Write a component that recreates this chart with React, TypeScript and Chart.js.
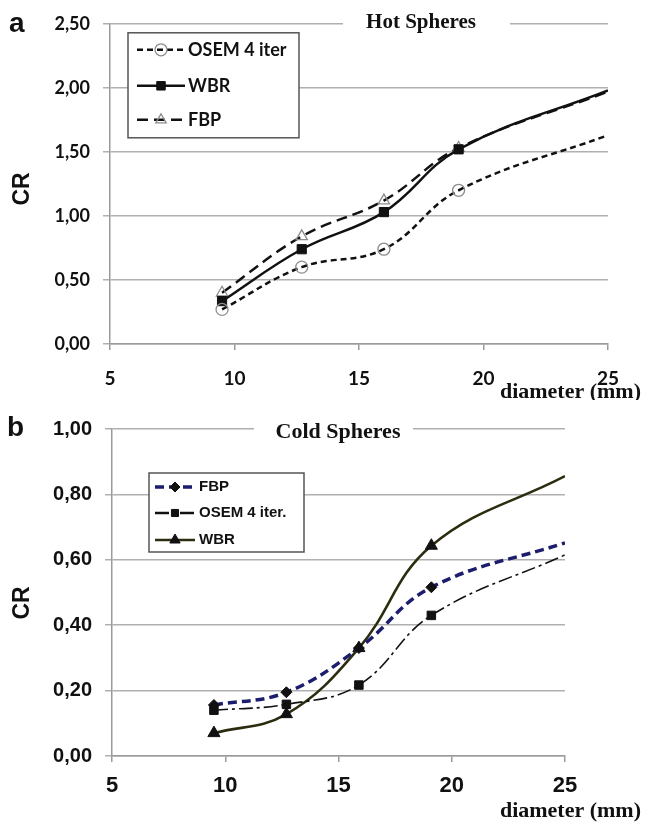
import React, { useEffect, useRef } from 'react';
import { Chart, registerables } from 'chart.js';
import { drawPoint } from 'chart.js/helpers';

Chart.register(...registerables);

// ---- Panel a: Hot Spheres ----
const hotDiameters = [9.5, 12.7, 16, 19, 25];
const hotOsem = [0.27, 0.6, 0.74, 1.2, 1.63];
const hotWbr = [0.335, 0.74, 1.03, 1.52, 1.98];
const hotFbp = [0.4, 0.84, 1.12, 1.53, 1.97];
const hotLabels = ['OSEM 4 iter', 'WBR', 'FBP'];

// ---- Panel b: Cold Spheres ----
const coldDiameters = [9.5, 12.7, 15.9, 19.1, 25];
const coldFbp = [0.156, 0.195, 0.33, 0.516, 0.652];
const coldOsem = [0.14, 0.158, 0.217, 0.43, 0.615];
const coldWbr = [0.07, 0.128, 0.33, 0.643, 0.856];
const coldLabels = ['FBP', 'OSEM 4 iter.', 'WBR'];

const xTicks = [5, 10, 15, 20, 25];

const toPts = (xs: number[], ys: number[]) => xs.map((x, i) => ({ x, y: ys[i] }));
const comma = (v: number) => Number(v).toFixed(2).replace('.', ',');

const annotPlugin = {
  id: 'annot',
  afterDraw(chart: any, _args: any, o: any) {
    const { ctx, chartArea } = chart;
    ctx.save();
    ctx.fillStyle = '#111';
    ctx.font = o.letterFont;
    ctx.textAlign = 'left';
    ctx.textBaseline = 'middle';
    ctx.fillText(o.letter, o.letterX, o.letterY);
    // y-axis title
    ctx.save();
    ctx.translate(o.yTitleX, o.yTitleY);
    ctx.rotate(-Math.PI / 2);
    ctx.font = o.yTitleFont;
    ctx.textAlign = 'center';
    ctx.textBaseline = 'middle';
    ctx.fillText(o.yTitle, 0, 0);
    ctx.restore();
    // chart title sitting on the top grid line
    ctx.fillStyle = '#fff';
    ctx.fillRect(o.gapX1, chartArea.top - 3, o.gapX2 - o.gapX1, 6);
    ctx.fillStyle = '#111';
    ctx.font = o.titleFont;
    ctx.textAlign = 'center';
    ctx.textBaseline = 'middle';
    ctx.fillText(o.title, o.titleX, o.titleY);
    // x-axis label
    ctx.textAlign = 'right';
    ctx.textBaseline = 'alphabetic';
    ctx.font = o.xLabelFont;
    ctx.fillText(o.xLabel, o.xLabelX, o.xLabelY);
    ctx.restore();
  },
};

const boxLegendPlugin = {
  id: 'boxLegend',
  afterDatasetsDraw(chart: any, _args: any, o: any) {
    const { ctx, chartArea } = chart;
    const x = chartArea.left + o.dx;
    const y = chartArea.top + o.dy;
    ctx.save();
    ctx.fillStyle = '#fff';
    ctx.fillRect(x, y, o.w, o.h);
    ctx.strokeStyle = '#555';
    ctx.lineWidth = 1.5;
    ctx.strokeRect(x, y, o.w, o.h);
    o.rows.forEach((row: any) => {
      const ds = chart.data.datasets[row.index];
      const ry = y + row.y;
      ctx.save();
      ctx.strokeStyle = ds.borderColor;
      ctx.lineWidth = row.lw || ds.borderWidth;
      ctx.setLineDash(ds.borderDash || []);
      ctx.beginPath();
      ctx.moveTo(x + o.s1, ry);
      ctx.lineTo(x + o.s2, ry);
      ctx.stroke();
      ctx.setLineDash([]);
      ctx.fillStyle = ds.pointBackgroundColor;
      ctx.strokeStyle = ds.pointBorderColor;
      ctx.lineWidth = ds.pointBorderWidth;
      drawPoint(
        ctx,
        { pointStyle: ds.pointStyle, radius: row.r, rotation: 0, borderWidth: ds.pointBorderWidth },
        x + (o.s1 + o.s2) / 2,
        ry
      );
      ctx.restore();
      ctx.fillStyle = '#111';
      ctx.font = o.font;
      ctx.textAlign = 'left';
      ctx.textBaseline = 'middle';
      ctx.fillText(ds.label, x + o.tx, ry);
    });
    ctx.restore();
  },
};

function makeConfig(p: any): any {
  return {
    type: 'line',
    data: { datasets: p.datasets },
    plugins: [annotPlugin, boxLegendPlugin],
    options: {
      responsive: false,
      animation: false,
      devicePixelRatio: 1,
      layout: { padding: { left: 0, right: p.padRight, top: p.padTop, bottom: 0 } },
      elements: { line: { tension: 0.4 } },
      plugins: {
        legend: { display: false },
        tooltip: { enabled: false },
        annot: p.annot,
        boxLegend: p.legend,
      },
      scales: {
        x: {
          type: 'linear',
          min: 5,
          max: 25,
          afterFit: (s: any) => { s.height = p.xHeight; },
          afterBuildTicks: (s: any) => { s.ticks = xTicks.map((v) => ({ value: v })); },
          grid: { drawOnChartArea: false, drawTicks: true, tickLength: 6, color: '#9a9a9a', lineWidth: 1.5 },
          border: { color: '#9a9a9a', width: 1.5 },
          ticks: {
            color: '#111',
            font: p.xTickFont,
            padding: p.xTickPad,
            maxRotation: 0,
            autoSkip: false,
            callback: (v: number) => String(v),
          },
        },
        y: {
          min: 0,
          max: p.yMax,
          afterFit: (s: any) => { s.width = p.yWidth; },
          grid: { color: '#b0b0b0', lineWidth: 1.5, drawTicks: true, tickLength: 7 },
          border: { color: '#9a9a9a', width: 1.5 },
          ticks: {
            stepSize: p.yStep,
            color: '#111',
            font: p.yTickFont,
            padding: 13,
            callback: (v: number) => comma(v),
          },
        },
      },
    },
  };
}

const hotConfig = () =>
  makeConfig({
    padRight: 38,
    padTop: 23,
    xHeight: 56,
    yWidth: 110,
    yMax: 2.5,
    yStep: 0.5,
    xTickPad: 17,
    xTickFont: { family: 'Lato', size: 19, weight: 'bold' },
    yTickFont: { family: 'Lato', size: 18, weight: 'bold' },
    datasets: [
      {
        label: hotLabels[0],
        data: toPts(hotDiameters, hotOsem),
        borderColor: '#111',
        borderWidth: 2.5,
        borderDash: [6, 4],
        pointStyle: 'circle',
        pointRadius: [6, 6, 6, 6, 0],
        pointBackgroundColor: 'rgba(255,255,255,0)',
        pointBorderColor: '#8c8c8c',
        pointBorderWidth: 1.3,
      },
      {
        label: hotLabels[1],
        data: toPts(hotDiameters, hotWbr),
        borderColor: '#111',
        borderWidth: 2.5,
        borderDash: [],
        pointStyle: 'rect',
        pointRadius: [6.5, 6.5, 6.5, 6.5, 0],
        pointBackgroundColor: '#111',
        pointBorderColor: '#111',
        pointBorderWidth: 1,
      },
      {
        label: hotLabels[2],
        data: toPts(hotDiameters, hotFbp),
        borderColor: '#111',
        borderWidth: 2.5,
        borderDash: [11, 6],
        pointStyle: 'triangle',
        pointRadius: [6.5, 6.5, 6.5, 6.5, 0],
        pointBackgroundColor: 'rgba(255,255,255,0)',
        pointBorderColor: '#8c8c8c',
        pointBorderWidth: 1.3,
      },
    ],
    annot: {
      letter: 'a',
      letterFont: 'bold 28px "Liberation Sans"',
      letterX: 9,
      letterY: 24,
      yTitle: 'CR',
      yTitleFont: 'bold 23px "Liberation Sans"',
      yTitleX: 23,
      yTitleY: 189,
      gapX1: 343,
      gapX2: 510,
      title: 'Hot Spheres',
      titleFont: 'bold 21px "Liberation Serif"',
      titleX: 421,
      titleY: 23,
      xLabel: 'diameter (mm)',
      xLabelFont: 'bold 22px "Liberation Serif"',
      xLabelX: 641,
      xLabelY: 398,
    },
    legend: {
      dx: 18,
      dy: 9,
      w: 171,
      h: 105,
      s1: 9,
      s2: 57,
      tx: 60,
      font: 'bold 18px Lato',
      rows: [
        { index: 0, y: 17, r: 6 },
        { index: 1, y: 53, r: 6 },
        { index: 2, y: 87, r: 6 },
      ],
    },
  });

const coldConfig = () =>
  makeConfig({
    padRight: 81,
    padTop: 29,
    xHeight: 68,
    yWidth: 112,
    yMax: 1,
    yStep: 0.2,
    xTickPad: 11,
    xTickFont: { family: 'Liberation Sans', size: 22, weight: 'bold' },
    yTickFont: { family: 'Liberation Sans', size: 20, weight: 'bold' },
    datasets: [
      {
        label: coldLabels[0],
        data: toPts(coldDiameters, coldFbp),
        borderColor: '#1d1d6e',
        borderWidth: 3.5,
        borderDash: [9, 5],
        pointStyle: 'rectRot',
        pointRadius: [5.5, 5.5, 5.5, 5.5, 0],
        pointBackgroundColor: '#111',
        pointBorderColor: '#111',
        pointBorderWidth: 1,
      },
      {
        label: coldLabels[1],
        data: toPts(coldDiameters, coldOsem),
        borderColor: '#111',
        borderWidth: 1.6,
        borderDash: [14, 4, 3, 4],
        pointStyle: 'rect',
        pointRadius: [6, 6, 6, 6, 0],
        pointBackgroundColor: '#111',
        pointBorderColor: '#111',
        pointBorderWidth: 1,
      },
      {
        label: coldLabels[2],
        data: toPts(coldDiameters, coldWbr),
        borderColor: '#2c2c10',
        borderWidth: 2.6,
        borderDash: [],
        pointStyle: 'triangle',
        pointRadius: [7, 7, 7, 7, 0],
        pointBackgroundColor: '#111',
        pointBorderColor: '#111',
        pointBorderWidth: 1,
      },
    ],
    annot: {
      letter: 'b',
      letterFont: 'bold 28px "Liberation Sans"',
      letterX: 7,
      letterY: 28,
      yTitle: 'CR',
      yTitleFont: 'bold 23px "Liberation Sans"',
      yTitleX: 23,
      yTitleY: 203,
      gapX1: 254,
      gapX2: 413,
      title: 'Cold Spheres',
      titleFont: 'bold 22px "Liberation Serif"',
      titleX: 338,
      titleY: 32,
      xLabel: 'diameter (mm)',
      xLabelFont: 'bold 22px "Liberation Serif"',
      xLabelX: 641,
      xLabelY: 417,
    },
    legend: {
      dx: 37,
      dy: 44,
      w: 155,
      h: 79,
      s1: 6,
      s2: 46,
      tx: 50,
      font: 'bold 15px "Liberation Sans"',
      rows: [
        { index: 0, y: 14, r: 5 },
        { index: 1, y: 40, r: 5, lw: 2.4 },
        { index: 2, y: 67, r: 6 },
      ],
    },
  });

function ChartPanel({ make, width, height }: { make: () => any; width: number; height: number }) {
  const ref = useRef<HTMLCanvasElement | null>(null);
  useEffect(() => {
    if (!ref.current) return;
    const chart = new Chart(ref.current, make());
    return () => chart.destroy();
  }, [make]);
  return <canvas ref={ref} width={width} height={height} style={{ display: 'block' }} />;
}

export default function App() {
  return (
    <div style={{ position: 'absolute', left: 0, top: 0, width: 646, height: 824, background: '#fff' }}>
      <ChartPanel make={hotConfig} width={646} height={400} />
      <ChartPanel make={coldConfig} width={646} height={424} />
    </div>
  );
}
